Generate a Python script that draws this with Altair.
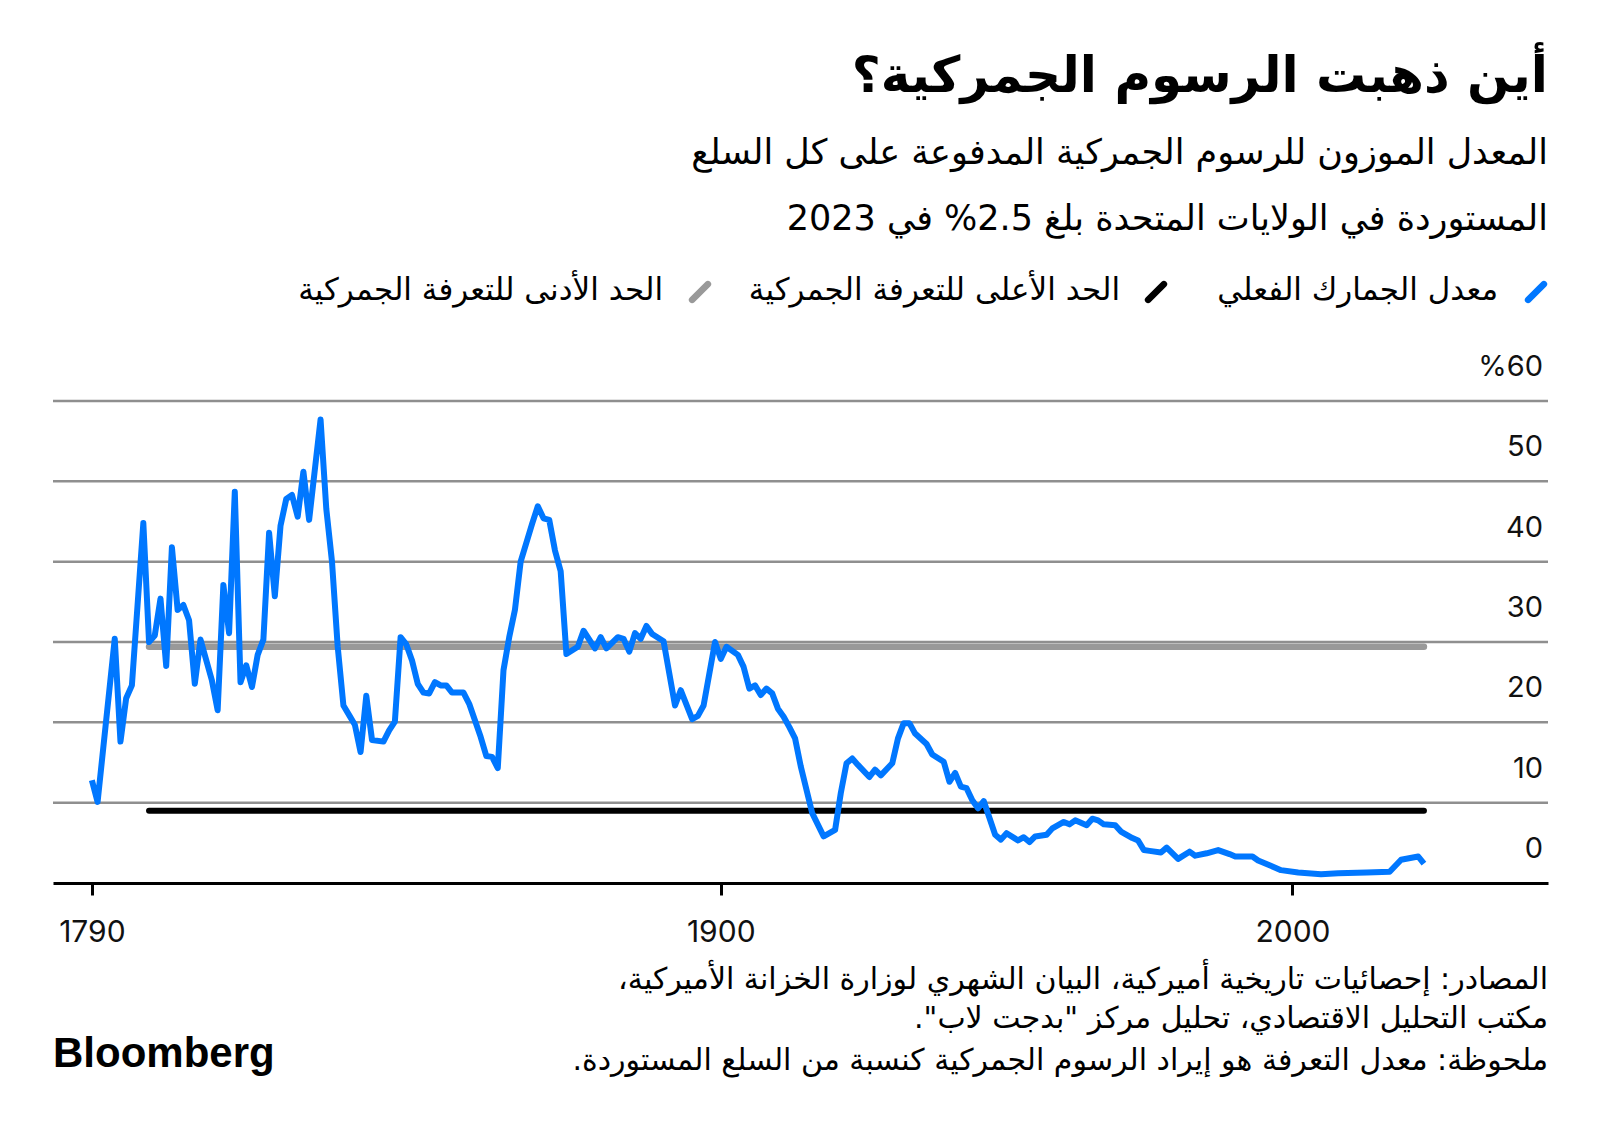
import altair as alt
import pandas as pd

# ---------------- data ----------------
years = [1790, 1791, 1794, 1795, 1796, 1797, 1799, 1800, 1801, 1802, 1803, 1804, 1805, 1806, 1807,
         1808, 1809, 1811, 1812, 1813, 1814, 1815, 1816, 1817, 1818, 1819, 1820, 1821, 1822, 1823,
         1824, 1825, 1826, 1827, 1828, 1830, 1831, 1832, 1833, 1834, 1835, 1836, 1837, 1838, 1839,
         1841, 1842, 1843, 1844, 1845, 1846, 1847, 1848, 1849, 1850, 1851, 1852, 1853, 1855, 1856,
         1858, 1859, 1860, 1861, 1862, 1863, 1864, 1865, 1867, 1868, 1869, 1870, 1871, 1872, 1873,
         1875, 1876, 1878, 1879, 1880, 1882, 1883, 1884, 1885, 1886, 1887, 1888, 1890, 1892, 1893,
         1895, 1896, 1897, 1899, 1900, 1901, 1903, 1904, 1905, 1906, 1907, 1908, 1909, 1910, 1911,
         1912, 1913, 1914, 1916, 1918, 1920, 1921, 1922, 1923, 1924, 1926, 1927, 1928, 1930, 1931,
         1932, 1933, 1934, 1936, 1937, 1939, 1940, 1941, 1942, 1943, 1944, 1945, 1946, 1948, 1949,
         1950, 1952, 1953, 1954, 1955, 1957, 1958, 1960, 1961, 1962, 1964, 1965, 1966, 1967, 1969,
         1970, 1972, 1973, 1974, 1975, 1977, 1978, 1980, 1982, 1983, 1985, 1987, 1989, 1990, 1993,
         1994, 1996, 1998, 2001, 2005, 2008, 2013, 2017, 2019, 2022, 2023]
tariff = [12.8, 10.1, 30.4, 17.6, 23.0, 24.6, 44.8, 30.0, 30.8, 35.4, 27.0, 41.8, 34.0, 34.6, 32.7,
          24.8, 30.3, 25.2, 21.5, 37.1, 31.1, 48.7, 25.0, 27.1, 24.4, 28.4, 30.3, 43.6, 35.7, 44.5,
          47.8, 48.3, 45.6, 51.2, 45.2, 57.7, 46.6, 40.0, 29.4, 22.1, 20.9, 19.7, 16.3, 23.3, 17.8,
          17.6, 19.0, 20.1, 30.6, 29.7, 27.7, 24.8, 23.7, 23.6, 25.0, 24.6, 24.6, 23.7, 23.7, 22.3,
          18.2, 15.8, 15.7, 14.3, 26.5, 30.6, 34.0, 40.0, 44.7, 46.9, 45.4, 45.2, 41.4, 38.8, 28.5,
          29.4, 31.4, 29.2, 30.6, 29.2, 30.6, 30.4, 28.8, 31.1, 30.4, 32.0, 31.0, 30.1, 22.1, 24.0,
          20.4, 20.8, 22.1, 30.0, 27.9, 29.4, 28.4, 26.9, 24.2, 24.6, 23.4, 24.2, 23.6, 21.7, 20.7,
          19.4, 18.0, 14.5, 8.7, 5.8, 6.6, 11.2, 14.9, 15.5, 14.7, 13.2, 14.1, 13.4, 14.9, 18.0,
          19.9, 19.9, 18.6, 17.3, 16.0, 15.1, 12.6, 13.7, 12.0, 11.8, 10.3, 9.3, 10.2, 6.0, 5.4,
          6.2, 5.3, 5.7, 5.1, 5.8, 6.0, 6.8, 7.6, 7.3, 7.8, 7.2, 8.0, 7.8, 7.3, 7.2,
          6.4, 5.6, 5.3, 4.1, 4.0, 3.8, 4.4, 3.0, 3.9, 3.4, 3.7, 4.1, 3.6, 3.3, 3.3,
          2.8, 2.2, 1.6, 1.3, 1.1, 1.2, 1.3, 1.4, 2.9, 3.3, 2.4]

ref_years = [1800, 2023]
upper_bound = 9.0     # black line
lower_bound = 29.4    # grey line

y_ticks = [0, 10, 20, 30, 40, 50, 60]
y_tick_labels = ["0", "10", "20", "30", "40", "50", "%60"]
x_ticks = [1790, 1900, 2000]

title_text = "أين ذهبت الرسوم الجمركية؟"
subtitle_lines = ["المعدل الموزون للرسوم الجمركية المدفوعة على كل السلع",
                  "المستوردة في الولايات المتحدة بلغ 2.5% في 2023"]
legend_labels = ["معدل الجمارك الفعلي", "الحد الأعلى للتعرفة الجمركية", "الحد الأدنى للتعرفة الجمركية"]
footer_lines = ["المصادر: إحصائيات تاريخية أميركية، البيان الشهري لوزارة الخزانة الأميركية،",
                "مكتب التحليل الاقتصادي، تحليل مركز \"بدجت لاب\".",
                "ملحوظة: معدل التعرفة هو إيراد الرسوم الجمركية كنسبة من السلع المستوردة."]
logo_text = "Bloomberg"

# ---------------- styling ----------------
W, H = 1495, 482
BLUE = "#0077FF"
GREY = "#999999"
GRID = "#8f8f8f"
AR_FONT = "DejaVu Sans"
NUM_FONT = "Inter"
RLM = "\u200f"


def rtl(s):
    return RLM + s + RLM


xscale = alt.Scale(domain=[1783.2, 2044.7], nice=False, zero=False)
yscale = alt.Scale(domain=[0, 60], nice=False, zero=False)

df = pd.DataFrame({"year": years, "rate": tariff})
grid_df = pd.DataFrame({"v": y_ticks[1:]})
lab_df = pd.DataFrame({"v": y_ticks, "label": y_tick_labels})
ref_df = pd.DataFrame({"x": [ref_years[0]], "x2": [ref_years[1]],
                       "lo": [lower_bound], "hi": [upper_bound]})

xaxis = alt.Axis(values=x_ticks, format="d", title=None, grid=False,
                 domainColor="#000000", domainWidth=3, tickColor="#000000",
                 tickWidth=3, tickSize=12, labelFont=NUM_FONT, labelFontSize=30,
                 labelColor="#111111", labelPadding=22)

grid = alt.Chart(grid_df).mark_rule(color=GRID, strokeWidth=2.5).encode(
    y=alt.Y("v:Q", scale=yscale, axis=None))

grey_line = alt.Chart(ref_df).mark_rule(color=GREY, strokeWidth=6.5, strokeCap="round").encode(
    x=alt.X("x:Q", scale=xscale, axis=xaxis), x2="x2:Q", y=alt.Y("lo:Q", scale=yscale, axis=None))
black_line = alt.Chart(ref_df).mark_rule(color="#000000", strokeWidth=6, strokeCap="round").encode(
    x=alt.X("x:Q", scale=xscale, axis=xaxis), x2="x2:Q", y=alt.Y("hi:Q", scale=yscale, axis=None))

line = alt.Chart(df).mark_line(color=BLUE, strokeWidth=6, strokeJoin="round").encode(
    x=alt.X("year:Q", scale=xscale, axis=xaxis),
    y=alt.Y("rate:Q", scale=yscale, axis=None))

ylabels = alt.Chart(lab_df).mark_text(
    align="right", baseline="alphabetic", dy=-25, font=NUM_FONT, fontSize=29, color="#111111"
).encode(y=alt.Y("v:Q", scale=yscale, axis=None), x=alt.value(W - 5), text="label:N")


def text_layer(s, x, y, size, bold=False, align="right", font=AR_FONT, baseline="middle"):
    return alt.Chart(pd.DataFrame({"t": [s]})).mark_text(
        align=align, baseline=baseline, font=font, fontSize=size,
        fontWeight="bold" if bold else "normal", color="#000000"
    ).encode(text="t:N", x=alt.value(x), y=alt.value(y))


SLASH = "M-0.5,0.5L0.5,-0.5"


def slash(x, color):
    return alt.Chart(pd.DataFrame({"t": [""]})).mark_point(
        shape=SLASH, size=1000, stroke=color, strokeWidth=6.5, strokeCap="round", filled=False, opacity=1
    ).encode(x=alt.value(x), y=alt.value(-109))


texts = [
    text_layer(rtl(title_text), W, -324, 50, bold=True),
    text_layer(rtl(subtitle_lines[0]), W, -248, 35),
    text_layer(rtl(subtitle_lines[1]), W, -182, 35),
    text_layer(rtl(legend_labels[0]), 1445, -110, 31),
    text_layer(rtl(legend_labels[1]), 1067, -110, 31),
    text_layer(rtl(legend_labels[2]), 610, -110, 31),
    text_layer(rtl(footer_lines[0]), W, 579, 30),
    text_layer(rtl(footer_lines[1]), W, 618, 30),
    text_layer(rtl(footer_lines[2]), W, 660, 30),
    text_layer(logo_text, 0, 666, 42, bold=True, align="left", font="Liberation Sans",
               baseline="alphabetic"),
]

legend_marks = [slash(1483, BLUE), slash(1103, "#000000"), slash(647, GREY)]

chart = alt.layer(grid, grey_line, black_line, line, ylabels, *legend_marks, *texts).properties(
    width=W, height=H,
    padding={"left": 45, "top": 393, "right": 40, "bottom": 215},
    autosize=alt.AutoSizeParams(type="none"),
    background="white",
).configure_view(strokeWidth=0)

chart.save("out.html", embed_options={"renderer": "svg", "actions": False})
